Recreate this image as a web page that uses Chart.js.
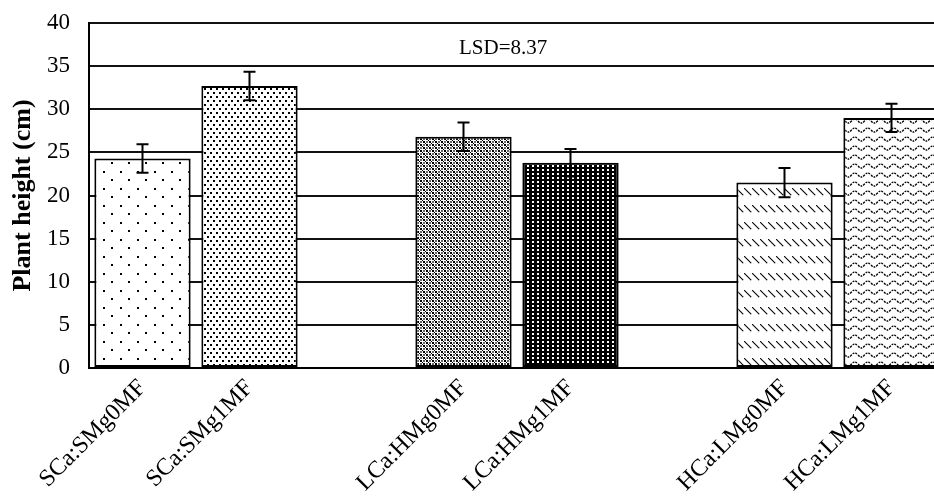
<!DOCTYPE html>
<html>
<head>
<meta charset="utf-8">
<script src="https://cdn.jsdelivr.net/npm/chart.js@4/dist/chart.umd.min.js"></script>
<style>
html,body{margin:0;padding:0;background:#fff;overflow:hidden;width:934px;height:497px;}
#wrap{width:950px;height:497px;}
</style>
</head>
<body>
<div id="wrap"><canvas id="c" width="950" height="497"></canvas></div>
<script>
const categories = ["SCa:SMg0MF","SCa:SMg1MF","","LCa:HMg0MF","LCa:HMg1MF","","HCa:LMg0MF","HCa:LMg1MF"];
const heights = [24.3, 32.7, null, 26.8, 23.8, null, 21.5, 29.0];
const errors  = [1.65, 1.65, null, 1.65, 1.6, null, 1.7, 1.65];
const yTicks = [0,5,10,15,20,25,30,35,40];
const yTitle = "Plant height (cm)";
const lsdText = "LSD=8.37";
const lsdPos = {x: 3.37, y: 37.1};

function tile(w, h, draw) {
  const c = document.createElement('canvas');
  c.width = w; c.height = h;
  const g = c.getContext('2d');
  g.fillStyle = '#fff'; g.fillRect(0,0,w,h);
  draw(g);
  return document.getElementById('c').getContext('2d').createPattern(c, 'repeat');
}
const patterns = {
  sparse: tile(17,17,g=>{g.fillStyle='#000';g.fillRect(1,1,2,2);g.fillRect(9,9,2,2);}),
  dense: tile(6,8,g=>{g.fillStyle='#000';g.fillRect(0,0,2,2);g.fillRect(3,4,2,2);}),
  checker: tile(6,6,g=>{
    g.fillStyle='#000';
    g.fillRect(0,0,2,2);g.fillRect(3,3,2,2);g.fillRect(2,2,1,1);g.fillRect(5,5,1,1);
    g.fillStyle='#666';
    g.fillRect(3,0,2,2);g.fillRect(0,3,2,2);
  }),
  dark: tile(5,4,g=>{g.fillStyle='#000';g.fillRect(0,0,5,4);g.fillStyle='#fff';g.fillRect(2,1,2,2);}),
  diag: tile(8,17,g=>{g.fillStyle='#111';for(let i=0;i<7;i++){g.fillRect(i,i+1,1.3,1.3);}}),
  wave: tile(13,9,g=>{
    g.strokeStyle='#000';g.lineWidth=1.3;g.setLineDash([2,1]);
    g.beginPath();g.moveTo(0,4);g.quadraticCurveTo(3.25,8,6.5,4);g.quadraticCurveTo(9.75,0,13,4);g.stroke();
  })
};
const barPatterns = [patterns.sparse, patterns.dense, null, patterns.checker, patterns.dark, null, patterns.diag, patterns.wave];

const serif = "'Liberation Serif','Times New Roman',serif";

const errorBarPlugin = {
  id: 'errorBars',
  afterDatasetsDraw(chart) {
    const ctx = chart.ctx;
    const meta = chart.getDatasetMeta(0);
    const y = chart.scales.y;
    ctx.save();
    ctx.strokeStyle = '#000';
    ctx.lineWidth = 2;
    meta.data.forEach((el, i) => {
      if (heights[i] == null) return;
      const x = el.x;
      const yTop = y.getPixelForValue(heights[i] + errors[i]);
      const yBot = y.getPixelForValue(heights[i] - errors[i]);
      ctx.beginPath();
      ctx.moveTo(x, yTop); ctx.lineTo(x, yBot);
      ctx.moveTo(x-6, yTop); ctx.lineTo(x+6, yTop);
      ctx.moveTo(x-6, yBot); ctx.lineTo(x+6, yBot);
      ctx.stroke();
    });
    const xs = chart.scales.x;
    const i0 = Math.floor(lsdPos.x);
    const x0 = xs.getPixelForValue(i0);
    const x1 = xs.getPixelForValue(i0 + 1);
    const lx = x0 + (x1 - x0) * (lsdPos.x - i0);
    ctx.fillStyle = '#000';
    ctx.font = "21px " + serif;
    ctx.textAlign = 'center';
    ctx.textBaseline = 'middle';
    ctx.fillText(lsdText, lx, y.getPixelForValue(lsdPos.y));
    ctx.restore();
  }
};

new Chart(document.getElementById('c'), {
  type: 'bar',
  data: {
    labels: categories,
    datasets: [{
      data: heights,
      backgroundColor: barPatterns,
      borderColor: '#000',
      borderWidth: 2,
      borderSkipped: false,
      barPercentage: 0.9,
      categoryPercentage: 1.0
    }]
  },
  options: {
    responsive: false,
    animation: false,
    devicePixelRatio: 1,
    layout: {padding: {top: 23, right: 5, left: 0, bottom: 0}},
    plugins: {legend: {display: false}, tooltip: {enabled: false}},
    scales: {
      x: {
        grid: {display: false, drawTicks: false},
        border: {display: true, color: '#000', width: 2},
        ticks: {
          color: '#000', font: {family: serif, size: 24},
          maxRotation: 45, minRotation: 45, autoSkip: false, padding: 6
        },
        afterFit(s) { s.height = 129; s.paddingLeft = 0; s.paddingRight = 0; }
      },
      y: {
        min: 0, max: 40,
        afterBuildTicks(s) { s.ticks = yTicks.map(v => ({value: v})); },
        grid: {color: '#111', lineWidth: 2, drawTicks: false},
        border: {display: true, color: '#000', width: 2},
        ticks: {color: '#000', font: {family: serif, size: 23}, padding: 19},
        title: {display: true, text: yTitle, color: '#000', font: {family: serif, size: 26, weight: 'bold'}, padding: {top: 8, bottom: 0}},
        afterFit(s) { s.width = 89; s.paddingTop = 0; s.paddingBottom = 0; }
      }
    }
  },
  plugins: [errorBarPlugin]
});
</script>
</body>
</html>
